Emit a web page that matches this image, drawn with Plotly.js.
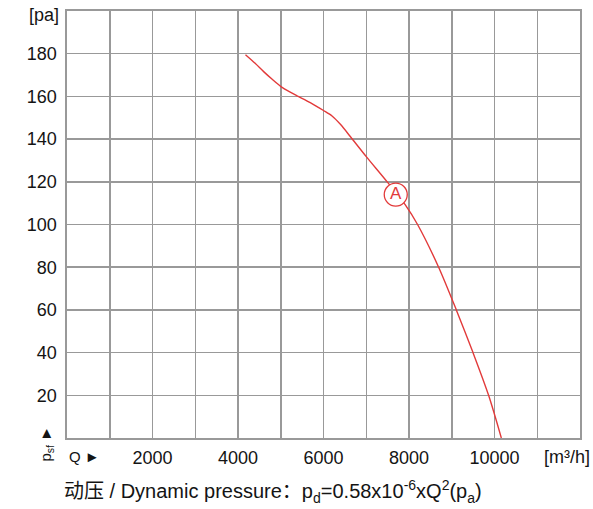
<!DOCTYPE html>
<html>
<head>
<meta charset="utf-8">
<script src="https://cdn.plot.ly/plotly-3.0.1.min.js"></script>
<style>html,body{margin:0;padding:0;background:#fff;}#chart{width:593px;height:509px;}</style>
</head>
<body>
<div id="chart"></div>
<script>
// Airflow Q [m³/h] and static pressure psf [pa]
const flowQ = [4175, 4400, 4600, 4800, 5005, 5200, 5380, 5700, 6000, 6200, 6400, 6627, 7000, 7485, 7914, 8200, 8693, 9107, 9497, 9862, 10160];
const pressureP = [179.5, 175.5, 171.6, 168, 164.6, 162.2, 160.3, 157, 153.4, 150.8, 146.8, 141.2, 131.8, 120.1, 109.2, 100, 80, 60, 40, 20, 0];
// Operating point A
const pointQ = [7690];
const pointP = [114];
const pointLabel = ["A"];
// Tick labels and in-between grid positions
const xTickVals = [2000, 4000, 6000, 8000, 10000];
const xTickText = ["2000", "4000", "6000", "8000", "10000"];
const xMinorGrid = [1000, 3000, 5000, 7000, 9000, 11000];
const yTickVals = [20, 40, 60, 80, 100, 120, 140, 160, 180];
const yTickText = ["20", "40", "60", "80", "100", "120", "140", "160", "180"];

const red = "#e23a3a";
const grid = "#999999";
const ink = "#141414";
const font = "Liberation Sans, Arial, Helvetica, sans-serif";

const traces = [
  {
    x: flowQ, y: pressureP, type: "scatter", mode: "lines",
    line: {color: red, width: 1.4, shape: "spline", smoothing: 0.8},
    hoverinfo: "skip"
  },
  {
    x: pointQ, y: pointP, type: "scatter", mode: "markers+text",
    text: pointLabel, textposition: "middle center",
    textfont: {color: red, size: 17, family: font},
    marker: {symbol: "circle", size: 23, color: "#ffffff", line: {color: red, width: 1.3}},
    hoverinfo: "skip"
  }
];

const layout = {
  width: 593, height: 509,
  margin: {l: 67, r: 13, t: 11, b: 71, pad: 0},
  paper_bgcolor: "#ffffff", plot_bgcolor: "#ffffff",
  showlegend: false,
  font: {family: font, size: 18, color: ink},
  xaxis: {
    range: [0, 12000], tickmode: "array", tickvals: xTickVals, ticktext: xTickText,
    showgrid: true, gridcolor: grid, gridwidth: 1.5,
    minor: {tickmode: "array", tickvals: xMinorGrid, showgrid: true, gridcolor: grid, gridwidth: 1.5, ticks: ""},
    showline: true, linecolor: grid, linewidth: 1.7, mirror: true,
    ticks: "", ticklabelstandoff: 3, zeroline: false,
    tickfont: {size: 18, family: font, color: ink}, fixedrange: true
  },
  yaxis: {
    range: [0, 200], tickmode: "array", tickvals: yTickVals, ticktext: yTickText,
    showgrid: true, gridcolor: grid, gridwidth: 1.5,
    showline: true, linecolor: grid, linewidth: 1.7, mirror: true,
    ticks: "", ticklabelstandoff: 5, zeroline: false,
    tickfont: {size: 18, family: font, color: ink}, fixedrange: true
  },
  annotations: [
    {text: "[pa]", xref: "paper", yref: "paper", x: -0.012, y: 0.990, xanchor: "right", yanchor: "middle",
     showarrow: false, font: {size: 18, family: font, color: ink}},
    {text: "Q ►", xref: "paper", yref: "paper", x: 0.0, y: -0.044, xanchor: "left", yanchor: "middle",
     showarrow: false, font: {size: 15, family: font, color: ink}},
    {text: "[m³/h]", xref: "paper", yref: "paper", x: 0.926, y: -0.044, xanchor: "left", yanchor: "middle",
     showarrow: false, font: {size: 18, family: font, color: ink}},
    {text: "p<sub>sf</sub> ►", xref: "paper", yref: "paper", x: -0.040, y: -0.012, xanchor: "center", yanchor: "middle",
     textangle: -90, showarrow: false, font: {size: 15, family: font, color: ink}},
    {text: "动压 / Dynamic pressure：p<sub>d</sub>=0.58x10<sup>-6</sup>xQ<sup>2</sup>(p<sub>a</sub>)",
     xref: "paper", yref: "paper", x: -0.009, y: -0.126, xanchor: "left", yanchor: "middle",
     showarrow: false, font: {size: 20, family: "Liberation Sans, Arial, Noto Sans CJK SC, sans-serif", color: ink}}
  ]
};

Plotly.newPlot("chart", traces, layout, {displayModeBar: false, staticPlot: true});
</script>
</body>
</html>
